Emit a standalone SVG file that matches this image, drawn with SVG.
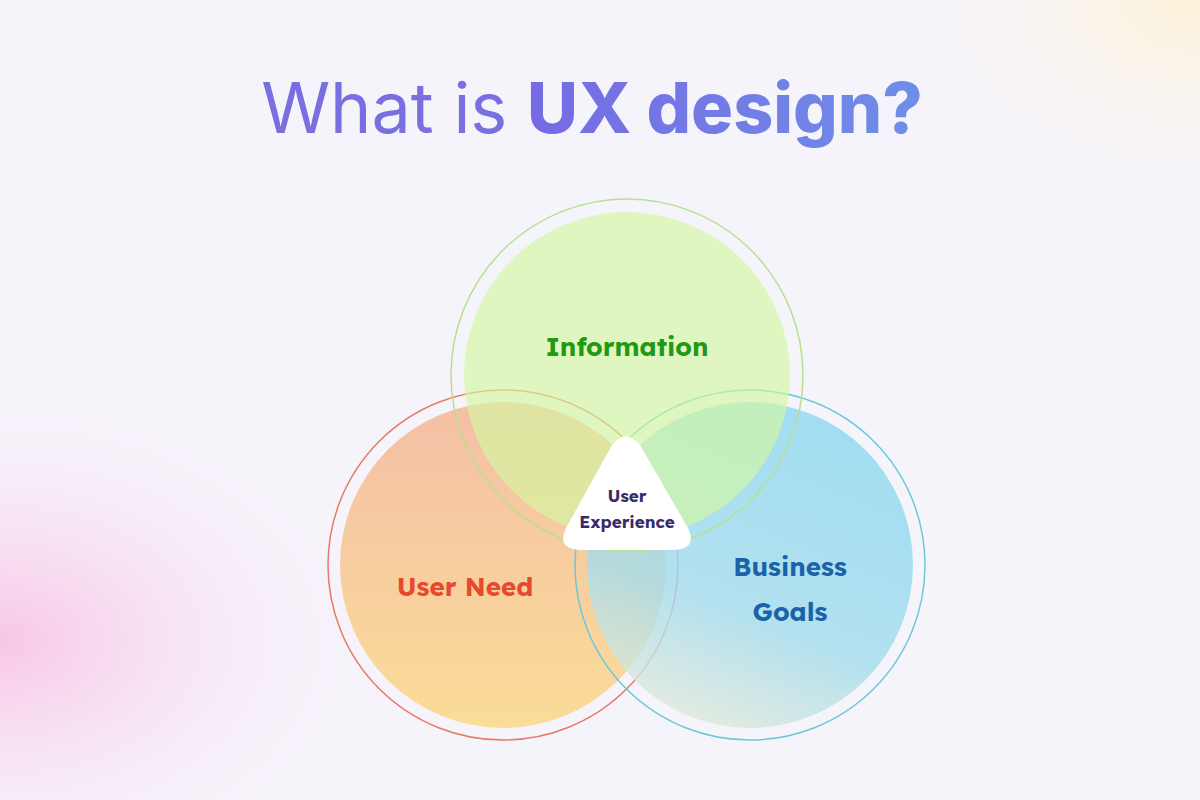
<svg xmlns="http://www.w3.org/2000/svg" width="1200" height="800" viewBox="0 0 1200 800">
<defs>
<radialGradient id="bg1" cx="0" cy="0.8" r="0.35"><stop offset="0" stop-color="#f9c6e6"/><stop offset="1" stop-color="#f6f3fb" stop-opacity="0"/></radialGradient>
<radialGradient id="bg2" cx="1" cy="0" r="0.3"><stop offset="0" stop-color="#fdf3d8"/><stop offset="1" stop-color="#f6f3fb" stop-opacity="0"/></radialGradient>
<linearGradient id="tg" x1="0" x2="1"><stop offset="0" stop-color="#7a52e0"/><stop offset="1" stop-color="#6f8ee8"/></linearGradient>
<linearGradient id="og" x1="0" y1="0" x2="0" y2="1"><stop offset="0" stop-color="#f4bfa6"/><stop offset="1" stop-color="#fbdc98"/></linearGradient>
<linearGradient id="bgc" x1="0.6" y1="0" x2="0.2" y2="1"><stop offset="0" stop-color="#8cd8f0"/><stop offset="0.6" stop-color="#a2dcec"/><stop offset="1" stop-color="#e8ead6"/></linearGradient>
<style>
.ring{fill:none;stroke-width:1.5}
.lbl{font-family:Lexend,"Inter","Noto Sans",sans-serif;font-weight:700;text-anchor:middle}
</style>
</defs>
<rect width="1200" height="800" fill="#f6f4fb"/>
<rect width="1200" height="800" fill="url(#bg1)"/>
<rect width="1200" height="800" fill="url(#bg2)"/>
<g id="title" font-family="Inter,'Noto Sans',sans-serif" font-size="70" text-anchor="middle">
<text x="592" y="133"><tspan fill="#7a6fe0" font-weight="400">What is </tspan><tspan fill="url(#tg)" font-weight="800">UX design?</tspan></text>
</g>
<g id="user-need">
<circle cx="503" cy="565" r="175" class="ring" stroke="#e57a66"/>
<circle cx="503" cy="565" r="163" fill="url(#og)"/>
</g>
<g id="business-goals">
<circle cx="750" cy="565" r="175" class="ring" stroke="#6cc8dc"/>
<circle cx="750" cy="565" r="163" fill="url(#bgc)" opacity="0.8"/>
</g>
<g id="information">
<circle cx="627" cy="375" r="176" class="ring" stroke="#b7e08e"/>
<circle cx="627" cy="375" r="163" fill="#d4f7a0" opacity="0.65"/>
</g>
<g id="ux">
<path d="M612,445 Q626,428 640,445 L688,528 Q698,550 672,550 L582,550 Q556,550 566,528 Z" fill="#ffffff"/>
<text class="lbl" x="627" y="502" font-size="17" fill="#3a2a6a">User</text>
<text class="lbl" x="627" y="528" font-size="17" fill="#3a2a6a">Experience</text>
</g>
<g id="labels">
<text class="lbl" x="627" y="356" font-size="26" fill="#1f9a12">Information</text>
<text class="lbl" x="465" y="596" font-size="26" fill="#e8482e">User Need</text>
<text class="lbl" x="790" y="576" font-size="26" fill="#1a63a8">Business</text>
<text class="lbl" x="790" y="621" font-size="26" fill="#1a63a8">Goals</text>
</g>
<g id="connectors"/>
</svg>
